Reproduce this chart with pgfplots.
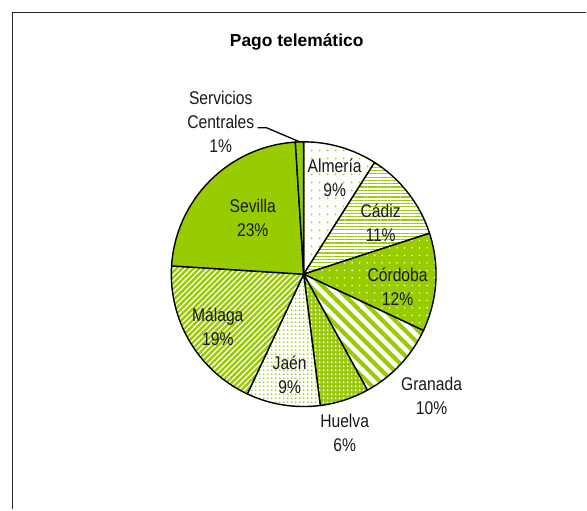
\documentclass[border=0pt]{standalone}
\usepackage{pgfplots}
\pgfplotsset{compat=1.18}
\usepackage{pgfplotstable}
\usepackage{fontspec}
\setmainfont{Liberation Sans}[FakeStretch=0.85]
\newfontfamily\titlefont{Liberation Sans}[BoldFont={Liberation Sans Bold}]
\usetikzlibrary{patterns.meta}
\definecolor{lime}{RGB}{153,204,0}
\pgfplotstableread[col sep=comma]{
name,value
Almería,9
Cádiz,11
Córdoba,12
Granada,10
Huelva,6
Jaén,9
Málaga,19
Sevilla,23
Servicios Centrales,1
}\piedata
\tikzset{
  slicebase/.style={draw=black, line width=1.4bp, line join=round},
  s0/.style={slicebase, preaction={fill=white}, pattern={Dots[distance=8bp, radius=0.9bp]}, pattern color=lime},
  s1/.style={slicebase, preaction={fill=white}, pattern={Lines[angle=0, distance=3.3bp, line width=1.2bp]}, pattern color=lime},
  s2/.style={slicebase, preaction={fill=lime}, pattern={Dots[distance=7.5bp, radius=0.8bp]}, pattern color=white},
  s3/.style={slicebase, preaction={fill=white}, pattern={Lines[angle=-45, distance=9bp, line width=4.2bp]}, pattern color=lime},
  s4/.style={slicebase, preaction={fill=lime}, pattern={Dots[distance=4bp, radius=1bp]}, pattern color=white},
  s5/.style={slicebase, preaction={fill=white}, pattern={Dots[distance=4bp, radius=0.9bp]}, pattern color=lime},
  s6/.style={slicebase, preaction={fill=lime}, pattern={Lines[angle=45, distance=4bp, line width=1.3bp]}, pattern color=white},
  s7/.style={slicebase, fill=lime},
  s8/.style={slicebase, fill=lime},
  lbl/.style={align=center, font=\fontsize{18.5}{24}\selectfont, text=black!90, inner sep=0pt},
}
\begin{document}
\begin{tikzpicture}
\begin{axis}[
  x=1bp, y=1bp,
  xmin=0, xmax=587, ymin=0, ymax=510,
  hide axis, clip=false,
]
\addplot[draw=none, forget plot] coordinates {(0,0) (587,510)};
\pgfplotsextra{
  \path (axis cs:0,0) rectangle (axis cs:587,510);
  \draw[line width=1.3bp, black!85] (axis cs:12.5,0) -- (axis cs:12.5,497.8) -- (axis cs:587,497.8);
  \xdef\curang{90}
  \foreach \i in {0,...,8}{
    \pgfplotstablegetelem{\i}{value}\of\piedata
    \pgfmathsetmacro\endang{\curang-3.6*\pgfplotsretval}
    \edef\temp{\noexpand\path[s\i] (axis cs:304,235.5) -- ++(\curang:132.5bp) arc[start angle=\curang, end angle=\endang, radius=132.5bp] -- cycle;}
    \temp
    \xdef\curang{\endang}
  }
  \node[font=\titlefont\bfseries\fontsize{17.5}{20}\selectfont, anchor=base] at (axis cs:297,463) {Pago telemático};
  \node[lbl] at (axis cs:335,332) {Almería\\9\%};
  \node[lbl] at (axis cs:381,287) {Cádiz\\11\%};
  \node[lbl] at (axis cs:398,223) {Córdoba\\12\%};
  \node[lbl] at (axis cs:432,114) {Granada\\10\%};
  \node[lbl] at (axis cs:345,77) {Huelva\\6\%};
  \node[lbl] at (axis cs:290,135) {Jaén\\9\%};
  \node[lbl] at (axis cs:218,183) {Málaga\\19\%};
  \node[lbl] at (axis cs:253,292) {Sevilla\\23\%};
  \node[lbl] at (axis cs:221,388) {Servicios\\Centrales\\1\%};
  \draw[line width=1.3bp] (axis cs:258,382) -- (axis cs:267,382) -- (axis cs:300,368);
}
\end{axis}
\end{tikzpicture}
\end{document}
